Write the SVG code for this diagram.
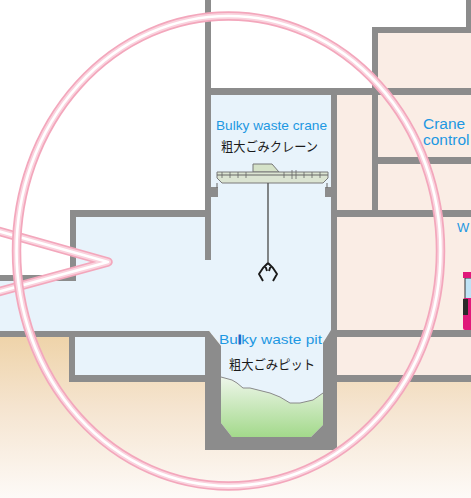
<svg xmlns="http://www.w3.org/2000/svg" width="471" height="498" viewBox="0 0 471 498">
  <defs>
    <linearGradient id="ground" x1="0" y1="0" x2="0" y2="1">
      <stop offset="0" stop-color="#eed2a6"/>
      <stop offset="0.45" stop-color="#f5e4cf"/>
      <stop offset="1" stop-color="#fdfaf7"/>
    </linearGradient>
    <linearGradient id="pile" x1="0" y1="0" x2="0" y2="1">
      <stop offset="0" stop-color="#eef6ea"/>
      <stop offset="1" stop-color="#a3d98b"/>
    </linearGradient>
    <style>
      .wall { fill: #8c8c8c; }
      .blue { fill: #e8f3fb; }
      .peach { fill: #faede5; }
      .en { font-family: "Liberation Sans", Arial, sans-serif; fill: #1d98e2; }
      .ja { font-family: "Noto Sans CJK JP", "Noto Sans", sans-serif; fill: #1a1a1a; }
      .ring-out { fill: none; stroke: #f3a7bc; stroke-width: 9.5; stroke-linejoin: round; }
      .ring-mid { fill: none; stroke: #fad3de; stroke-width: 6; stroke-linejoin: round; }
      .ring-in { fill: none; stroke: #ffffff; stroke-width: 2.6; stroke-linejoin: round; }
    </style>
  </defs>

  <!-- background and ground -->
  <rect x="0" y="0" width="471" height="498" fill="#ffffff"/>
  <rect x="0" y="331" width="471" height="167" fill="url(#ground)"/>

  <!-- room fills -->
  <g id="rooms">
    <rect class="blue" x="211" y="95" width="120" height="240"/>
    <rect class="blue" x="76" y="217" width="255" height="114"/>
    <rect class="blue" x="0" y="281" width="76" height="50"/>
    <rect class="blue" x="75" y="337" width="130" height="38"/>
    <rect class="peach" x="337" y="95" width="134" height="115"/>
    <rect class="peach" x="378" y="33" width="93" height="62"/>
    <rect class="peach" x="337" y="217" width="134" height="113"/>
    <rect class="peach" x="337" y="337" width="134" height="38"/>
  </g>

  <!-- pit -->
  <g id="pit">
    <polygon class="blue" points="209,331 221,346 221,423 232,437 311,437 323,425 323,343 331,331"/>
    <polygon fill="url(#pile)" points="221,377 232,380 237,383 243,388 250,388 270,393 280,397 290,403 300,403 313,400 323,393 323,425 311,437 232,437 221,423"/>
    <polyline fill="none" stroke="#8a8a8a" stroke-width="1" points="221,377 232,380 237,383 243,388 250,388 270,393 280,397 290,403 300,403 313,400 323,393"/>
    <polygon class="wall" points="205,331 209,331 221,346 221,423 232,437 311,437 323,425 323,343 331,330 337,330 337,450 205,450"/>
  </g>

  <!-- walls -->
  <g id="walls">
    <rect class="wall" x="205" y="0" width="6" height="260"/>
    <rect class="wall" x="205" y="88" width="266" height="7"/>
    <rect class="wall" x="331" y="88" width="6" height="245"/>
    <rect class="wall" x="70" y="210" width="141" height="7"/>
    <rect class="wall" x="70" y="210" width="6" height="71"/>
    <rect class="wall" x="0" y="275" width="76" height="6"/>
    <rect class="wall" x="0" y="331" width="209" height="6"/>
    <rect class="wall" x="69" y="331" width="6" height="51"/>
    <rect class="wall" x="69" y="375" width="136" height="7"/>
    <rect class="wall" x="337" y="210" width="134" height="7"/>
    <rect class="wall" x="372" y="27" width="6" height="190"/>
    <rect class="wall" x="372" y="27" width="99" height="6"/>
    <rect class="wall" x="466" y="0" width="5" height="33"/>
    <rect class="wall" x="378" y="157" width="93" height="7"/>
    <rect class="wall" x="337" y="330" width="134" height="7"/>
    <rect class="wall" x="337" y="375" width="134" height="7"/>
    <!-- crane rail brackets -->
    <rect class="wall" x="211" y="187" width="7" height="10"/>
    <rect class="wall" x="325" y="187" width="6" height="10"/>
  </g>

  <!-- bulky waste crane -->
  <g id="crane">
    <line x1="217" y1="183" x2="217" y2="188" stroke="#666" stroke-width="1"/>
    <line x1="327" y1="183" x2="327" y2="188" stroke="#666" stroke-width="1"/>
    <polygon points="253,172 253,164 272,164 279,172" fill="#d5e2c8" stroke="#777" stroke-width="1"/>
    <polygon points="217,172 328,172 328,178 323,183 222,183 217,178" fill="#dbe4d2" stroke="#7a7a7a" stroke-width="1"/>
    <line x1="217" y1="175" x2="328" y2="175" stroke="#666" stroke-width="1"/>
    <g stroke="#666" stroke-width="0.8">
      <line x1="222" y1="172" x2="222" y2="178"/><line x1="230" y1="172" x2="230" y2="178"/>
      <line x1="238" y1="172" x2="238" y2="178"/><line x1="246" y1="172" x2="246" y2="178"/>
      <line x1="284" y1="172" x2="284" y2="178"/><line x1="292" y1="170" x2="292" y2="179"/>
      <line x1="296" y1="170" x2="296" y2="179"/><line x1="304" y1="172" x2="304" y2="178"/>
      <line x1="312" y1="172" x2="312" y2="178"/><line x1="320" y1="172" x2="320" y2="178"/>
    </g>
    <line x1="268" y1="183" x2="268" y2="264" stroke="#555" stroke-width="1.4"/>
    <path d="M268,263 L263,268 L259,274 L263,281 M268,263 L273,268 L277,274 L273,281 M265,265 L267,271 M271,265 L269,271" fill="none" stroke="#1a1a1a" stroke-width="1.9" stroke-linejoin="round"/>
  </g>

  <!-- garbage truck at the edge -->
  <g id="truck">
    <rect x="465" y="278" width="8" height="22" fill="#bfe3f5" stroke="#333" stroke-width="1"/>
    <rect x="463" y="272" width="9" height="6" fill="#e0187a"/>
    <rect x="463" y="298" width="10" height="32" rx="2" fill="#e0187a"/>
    <rect x="463" y="299" width="5" height="16" fill="#2a2a2a"/>
  </g>

  <!-- labels -->
  <g id="labels">
    <text class="en" x="216" y="130" font-size="13" textLength="111" lengthAdjust="spacingAndGlyphs">Bulky waste crane</text>
    <text class="ja" x="221" y="151" font-size="13" textLength="97" lengthAdjust="spacingAndGlyphs">粗大ごみクレーン</text>
    <text class="en" x="219" y="344" font-size="13" textLength="103" lengthAdjust="spacingAndGlyphs">Bu<tspan fill="#1466c8" stroke="#1466c8" stroke-width="0.9">l</tspan>ky waste pit</text>
    <text class="ja" x="229" y="369" font-size="13" textLength="86" lengthAdjust="spacingAndGlyphs">粗大ごみピット</text>
    <text class="en" x="423" y="129" font-size="15.5">Crane</text>
    <text class="en" x="423" y="145" font-size="15.5">control</text>
    <text class="en" x="457" y="232" font-size="13">W</text>
  </g>

  <!-- magnifier callout -->
  <g id="connectors">
    <polyline class="ring-out" points="-6,230 108,262 -6,293"/>
    <polyline class="ring-mid" points="-6,230 108,262 -6,293"/>
    <polyline class="ring-in" points="-6,230 108,262 -6,293"/>
    <ellipse class="ring-out" cx="228.5" cy="251" rx="212" ry="235"/>
    <ellipse class="ring-mid" cx="228.5" cy="251" rx="212" ry="235"/>
    <ellipse class="ring-in" cx="228.5" cy="251" rx="212" ry="235"/>
  </g>
</svg>
